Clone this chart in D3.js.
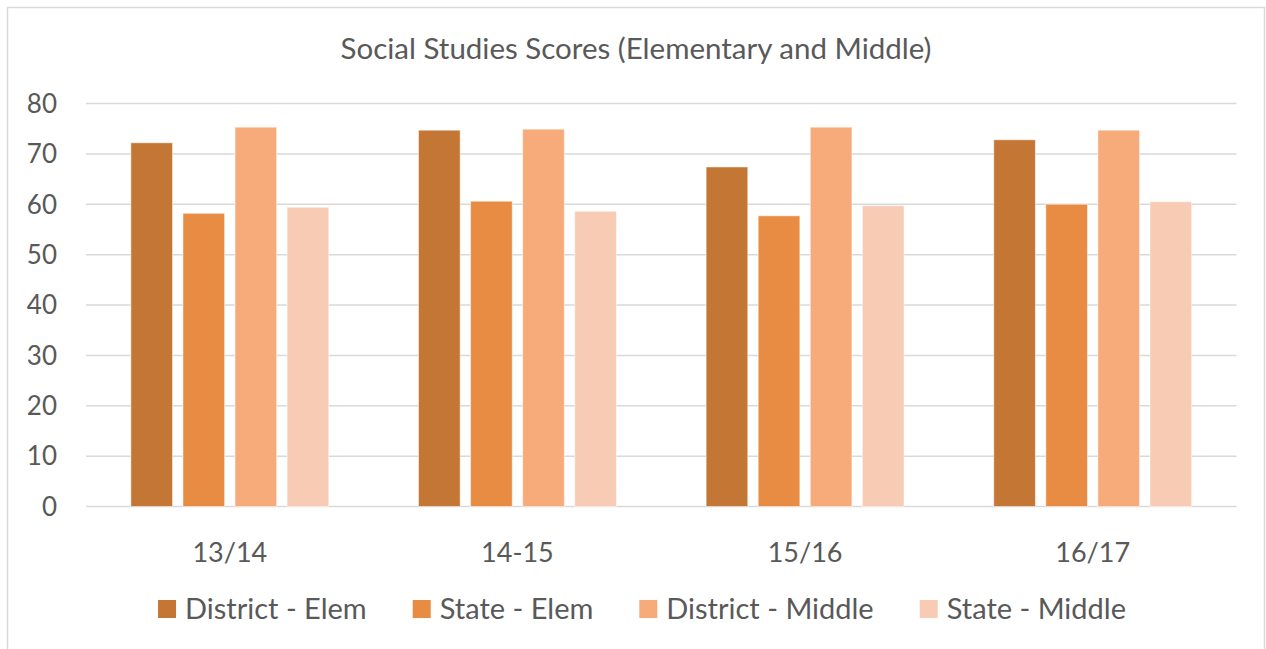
<!DOCTYPE html>
<html>
<head>
<meta charset="utf-8">
<script src="https://cdn.jsdelivr.net/npm/d3@7"></script>
<style>
  body { margin: 0; background: #fff; }
  text { font-family: Lato, "Open Sans", sans-serif; fill: #595959; }
</style>
</head>
<body>
<div id="chart"></div>
<script>
// data
const years = ["13/14", "14-15", "15/16", "16/17"];
const seriesNames = ["District - Elem", "State - Elem", "District - Middle", "State - Middle"];
const districtElem = [72.2, 74.7, 67.4, 72.8];
const stateElem = [58.2, 60.6, 57.7, 60.0];
const districtMiddle = [75.3, 74.9, 75.3, 74.7];
const stateMiddle = [59.4, 58.6, 59.7, 60.5];
const yTicks = [0, 10, 20, 30, 40, 50, 60, 70, 80];
const colors = ["#C47635", "#E78C42", "#F7AB7A", "#F8CBB4"];

const seriesValues = [districtElem, stateElem, districtMiddle, stateMiddle];

const width = 1266, height = 649;
const margin = {top: 103.5, right: 29.5, bottom: 142.5, left: 86};

const svg = d3.select("#chart").append("svg")
    .attr("width", width)
    .attr("height", height);

// chart border
svg.append("rect")
    .attr("x", 7.5).attr("y", 7.5)
    .attr("width", 1257).attr("height", 660)
    .attr("fill", "none")
    .attr("stroke", "#D9D9D9")
    .attr("stroke-width", 1.5);

const x0 = d3.scaleBand()
    .domain(years)
    .range([margin.left, width - margin.right])
    .paddingInner(0.312)
    .paddingOuter(0.156);

const x1 = d3.scaleBand()
    .domain(d3.range(seriesNames.length))
    .range([0, x0.bandwidth()])
    .paddingInner(0.2);

const y = d3.scaleLinear()
    .domain([0, 80])
    .range([height - margin.bottom, margin.top]);

// gridlines
svg.append("g")
    .selectAll("line")
    .data(yTicks)
    .join("line")
    .attr("x1", margin.left)
    .attr("x2", width - margin.right)
    .attr("y1", d => y(d))
    .attr("y2", d => y(d))
    .attr("stroke", "#D9D9D9")
    .attr("stroke-width", 1.5);

// y labels
svg.append("g")
    .selectAll("text")
    .data(yTicks)
    .join("text")
    .attr("x", 57)
    .attr("y", d => y(d))
    .attr("dy", "0.36em")
    .attr("text-anchor", "end")
    .attr("font-size", 26)
    .text(d => d);

// bars
const groups = svg.append("g")
    .selectAll("g")
    .data(years)
    .join("g")
    .attr("transform", d => `translate(${x0(d)},0)`);

groups.selectAll("rect")
    .data((d, i) => seriesValues.map((s, k) => ({k, v: s[i]})))
    .join("rect")
    .attr("x", d => x1(d.k))
    .attr("width", x1.bandwidth())
    .attr("y", d => y(d.v))
    .attr("height", d => y(0) - y(d.v))
    .attr("fill", d => colors[d.k])
    .attr("stroke", "#fff")
    .attr("stroke-opacity", 0.5)
    .attr("stroke-width", 1);

// x labels
svg.append("g")
    .selectAll("text")
    .data(years)
    .join("text")
    .attr("x", d => x0(d) + x0.bandwidth() / 2)
    .attr("y", 552)
    .attr("dy", "0.36em")
    .attr("text-anchor", "middle")
    .attr("font-size", 27)
    .text(d => d);

// title
svg.append("text")
    .attr("x", 636)
    .attr("y", 48)
    .attr("dy", "0.36em")
    .attr("text-anchor", "middle")
    .attr("font-size", 29.5)
    .text("Social Studies Scores (Elementary and Middle)");

// legend
const legend = svg.append("g");
const items = legend.selectAll("g")
    .data(seriesNames)
    .join("g");
items.append("rect")
    .attr("width", 18).attr("height", 18)
    .attr("y", -9)
    .attr("fill", (d, i) => colors[i]);
items.append("text")
    .attr("x", 27)
    .attr("dy", "0.36em")
    .attr("font-size", 29)
    .text(d => d);

let pos = 0;
const offsets = [];
items.each(function () {
    offsets.push(pos);
    pos += this.getBBox().width + 46;
});
const total = pos - 46;
const startX = 642 - total / 2;
items.attr("transform", (d, i) => `translate(${startX + offsets[i]},609)`);
</script>
</body>
</html>
